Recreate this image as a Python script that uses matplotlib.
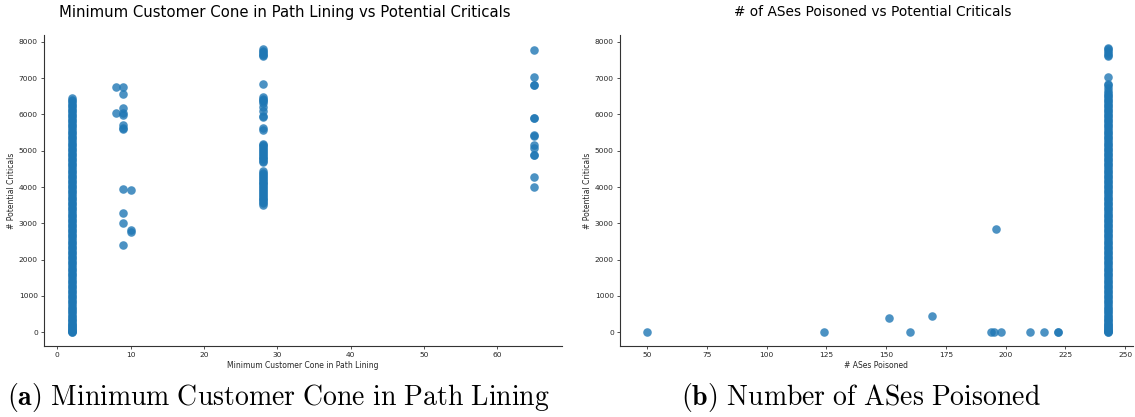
import numpy as np
import matplotlib
matplotlib.use('Agg')
import matplotlib.pyplot as plt

plt.rcParams['mathtext.fontset'] = 'cm'

# --- panel (a): minimum customer cone in path lining ---
cone_x2 = [0, 10, 25, 40, 60, 80, 105, 130, 160, 190, 220, 255, 290, 330, 370,
           410, 450, 495, 540, 585, 630, 675, 720, 770, 815, 860, 910, 955, 1000,
           1050, 1095, 1140, 1190, 1235, 1280, 1330, 1375, 1420, 1470, 1515, 1560,
           1610, 1655, 1700, 1750, 1795, 1840, 1890, 1935, 1980, 2030, 2075, 2120,
           2170, 2215, 2260, 2310, 2355, 2400, 2450, 2495, 2540, 2590, 2635, 2680,
           2730, 2775, 2820, 2870, 2915, 2960, 3010, 3055, 3100, 3150, 3195, 3240,
           3290, 3335, 3380, 3430, 3475, 3520, 3570, 3615, 3660, 3710, 3755, 3800,
           3850, 3895, 3940, 3990, 4035, 4080, 4130, 4175, 4220, 4270, 4315, 4360,
           4410, 4455, 4500, 4550, 4595, 4640, 4690, 4735, 4780, 4830, 4875, 4920,
           4970, 5015, 5060, 5110, 5155, 5200, 5250, 5295, 5340, 5390, 5435, 5480,
           5530, 5575, 5620, 5670, 5715, 5760, 5810, 5855, 5900, 5950, 5995, 6040,
           6090, 6135, 6180, 6230, 6275, 6320, 6370, 6410, 6450]
cone_x8 = [6767, 6033]
cone_x9 = [6750, 6566, 6188, 6033, 5986, 5719, 5591, 5620, 3936, 3292, 3016, 2391]
cone_x10 = [3908, 2814, 2767]
cone_x28 = [7800, 7760, 7720, 7680, 7640, 7600, 6850, 6480, 6440, 6400, 6360, 6320,
            6200, 6100, 5950, 5920, 5620, 5580, 5200, 5160, 5120, 5080, 5040, 5000,
            4960, 4920, 4880, 4840, 4800, 4760, 4720, 4700, 4430, 4390, 4350, 4310,
            4270, 4230, 4190, 4150, 4110, 4070, 4030, 3990, 3950, 3910, 3870, 3830,
            3790, 3750, 3710, 3670, 3630, 3590, 3550, 3510]
cone_x65 = [7780, 7034, 6814, 6800, 5912, 5900, 5426, 5410, 5159, 5067, 4883, 4870,
            4267, 3991]

cone_groups = [(2, cone_x2), (8, cone_x8), (9, cone_x9), (10, cone_x10),
               (28, cone_x28), (65, cone_x65)]

# --- panel (b): number of ASes poisoned ---
pois_outlier_x = [50, 124, 151, 160, 169, 194, 195, 196, 198, 210, 216, 222, 222]
pois_outlier_y = [0, 0, 378, 0, 450, 0, 0, 2841, 0, 0, 0, 0, 10]
pois_col_x = 243
pois_col_y = cone_x2 + [6500, 6540, 6600, 6650, 6720, 6800, 6850, 7034,
                        7600, 7650, 7700, 7750, 7800, 7830]

COLOR = '#1f77b4'
TEXT = '#262626'

fig = plt.figure(figsize=(11.35, 4.17), dpi=100)
ax1 = fig.add_axes([44 / 1135, 1 - 346 / 417, 518 / 1135, 311 / 417])
ax2 = fig.add_axes([620 / 1135, 1 - 346 / 417, 513 / 1135, 311 / 417])

for x, ys in cone_groups:
    ax1.scatter([x] * len(ys), ys, s=38, color=COLOR, alpha=0.8, linewidths=0)

ax2.scatter(pois_outlier_x, pois_outlier_y, s=38, color=COLOR, alpha=0.8, linewidths=0)
ax2.scatter([pois_col_x] * len(pois_col_y), pois_col_y, s=38, color=COLOR,
            alpha=0.8, linewidths=0)

ax1.set_xlim(-1.8, 68.8)
ax2.set_xlim(38.6, 253.3)
for ax in (ax1, ax2):
    ax.set_ylim(-386, 8193)
    ax.set_yticks(range(0, 8001, 1000))
    ax.spines['top'].set_visible(False)
    ax.spines['right'].set_visible(False)
    for sp in ('left', 'bottom'):
        ax.spines[sp].set_color('#333333')
        ax.spines[sp].set_linewidth(0.8)
    ax.tick_params(labelsize=5.4, length=2.5, width=0.6, colors='#333333',
                   labelcolor=TEXT, pad=2)
    ax.set_ylabel('# Potential Criticals', fontsize=5.5, color=TEXT, labelpad=2)
ax2.set_xticks([50, 75, 100, 125, 150, 175, 200, 225, 250])

ax1.set_xlabel('Minimum Customer Cone in Path Lining', fontsize=5.5, color=TEXT, labelpad=2)
ax2.set_xlabel('# ASes Poisoned', fontsize=5.5, color=TEXT, labelpad=2)

fig.text(285 / 1135, 1 - 12 / 417, 'Minimum Customer Cone in Path Lining vs Potential Criticals',
         ha='center', va='center', fontsize=10.75, color='black')
fig.text(873 / 1135, 1 - 12 / 417, '# of ASes Poisoned vs Potential Criticals',
         ha='center', va='center', fontsize=9.9, color='black')

fig.text(278 / 1135, 1 - 398 / 417,
         r'$\mathbf{(a)}$ $\mathrm{Minimum\ Customer\ Cone\ in\ Path\ Lining}$',
         ha='center', va='center', fontsize=20)
fig.text(861 / 1135, 1 - 398 / 417,
         r'$\mathbf{(b)}$ $\mathrm{Number\ of\ ASes\ Poisoned}$',
         ha='center', va='center', fontsize=20)

fig.savefig('out.png', dpi=100)
